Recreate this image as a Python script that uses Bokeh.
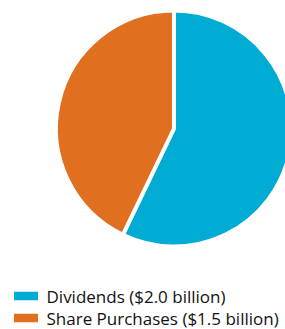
import numpy as np
from bokeh.plotting import figure
from bokeh.models import Range1d, ColumnDataSource
from bokeh.core.properties import value
from bokeh.embed import file_html
from bokeh.resources import INLINE

categories = ["Dividends", "Share Purchases"]
amounts = [2.0, 1.5]
labels = ["Dividends ($2.0 billion)", "Share Purchases ($1.5 billion)"]
colors = ["#00acd4", "#e07020"]

W, H = 285, 329
p = figure(width=W, height=H, output_backend="svg", toolbar_location=None,
           x_range=Range1d(0, W), y_range=Range1d(0, H),
           min_border=0, outline_line_color=None)
p.axis.visible = False
p.grid.visible = False
p.background_fill_color = "white"
p.border_fill_color = "white"

# pie: clockwise from 12 o'clock
vals = np.array(amounts)
frac = vals / vals.sum()
ends_cw = np.cumsum(frac) * 2 * np.pi
starts_cw = ends_cw - frac * 2 * np.pi
start_angle = np.pi / 2 - ends_cw
end_angle = np.pi / 2 - starts_cw
cx, cy = 173.5, H - 128
src = ColumnDataSource(dict(start=start_angle, end=end_angle, color=colors))
p.wedge(x=cx, y=cy, radius=118, start_angle="start", end_angle="end",
        fill_color="color", line_color="white", line_width=4, source=src)

# legend
ly = [H - 295.5, H - 317.5]
lsrc = ColumnDataSource(dict(y=ly, color=colors, label=labels))
p.rect(x=25.5, y="y", width=24, height=8.5, fill_color="color", line_color=None, source=lsrc)
p.text(x=46, y="y", text="label", source=lsrc, text_font=value("Open Sans"),
       text_font_size="17px", text_color="#111111", text_baseline="middle")

open("out.html", "w").write(file_html(p, INLINE))
